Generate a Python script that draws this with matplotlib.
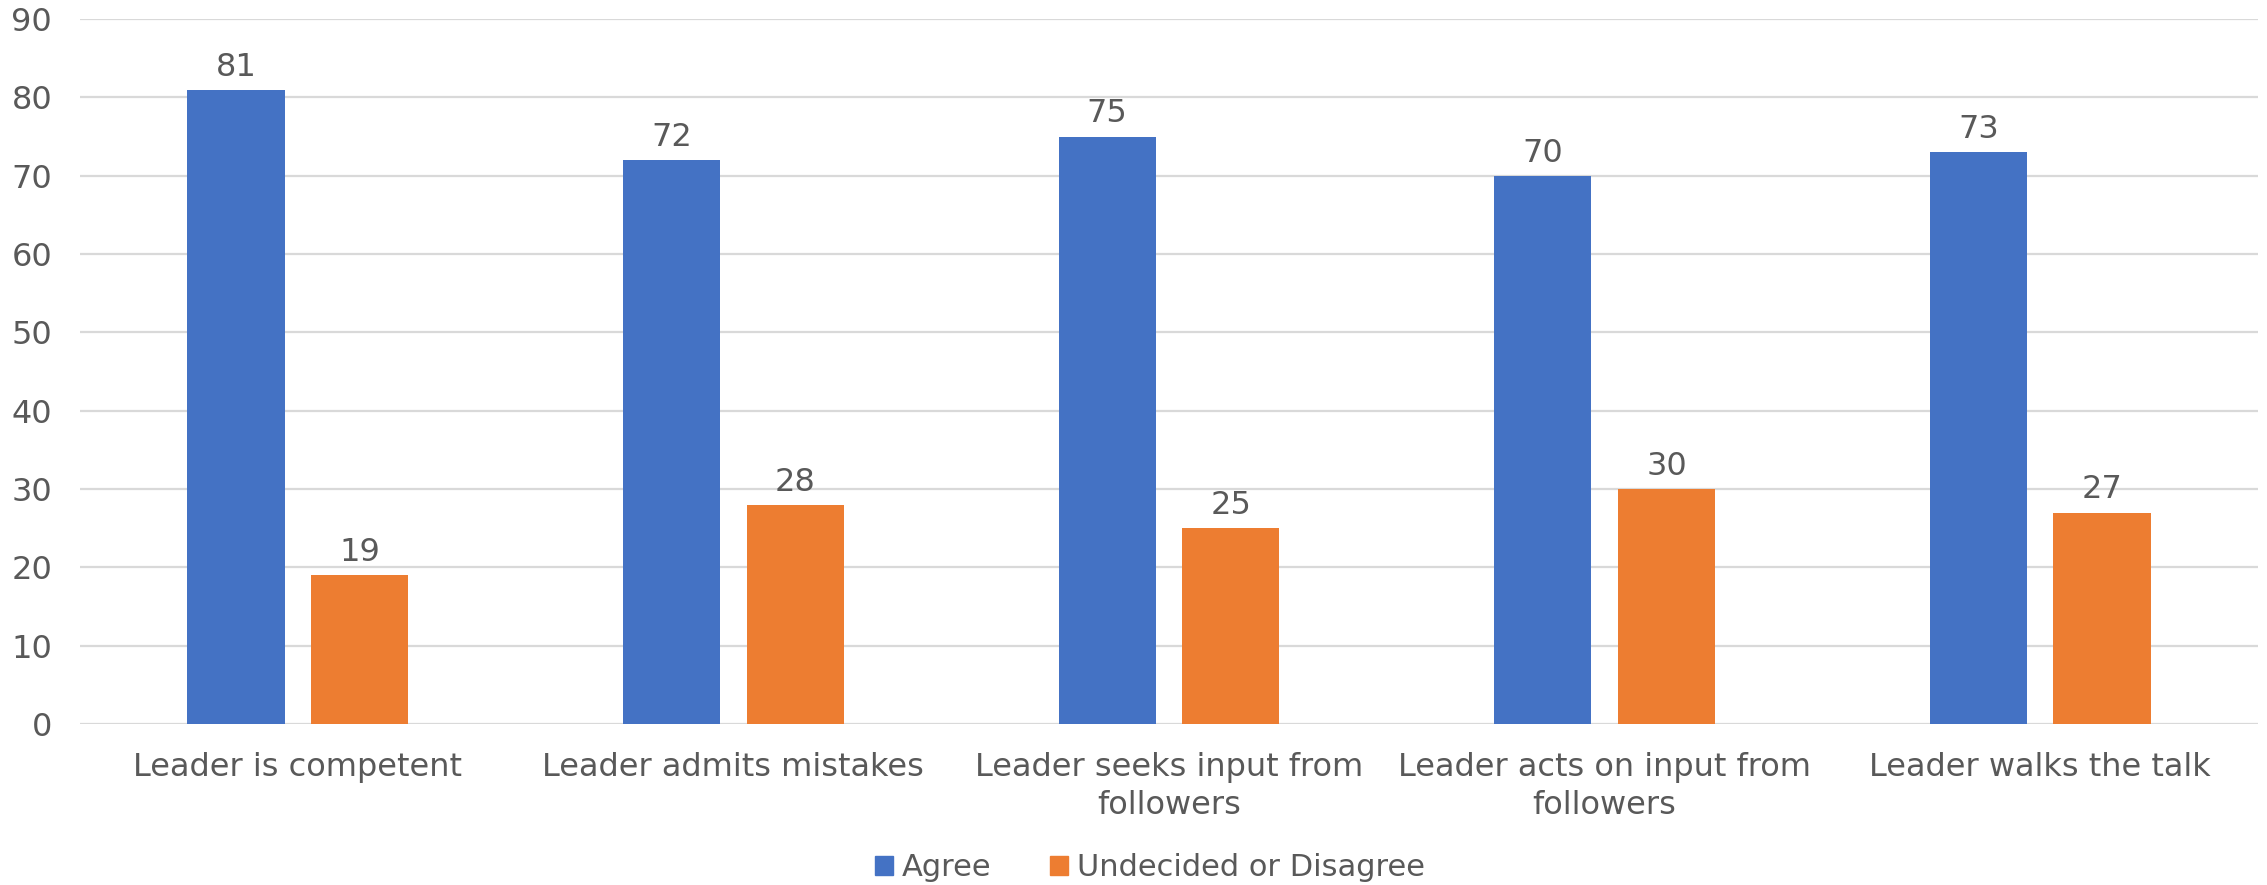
import matplotlib.pyplot as plt
import numpy as np
from matplotlib.patches import Patch

plt.rcParams["font.family"] = ["DejaVu Sans"]

categories = [
    "Leader is competent",
    "Leader admits mistakes",
    "Leader seeks input from\nfollowers",
    "Leader acts on input from\nfollowers",
    "Leader walks the talk",
]
agree = [81, 72, 75, 70, 73]
undecided = [19, 28, 25, 30, 27]
series_names = ["Agree", "Undecided or Disagree"]
y_ticks = list(range(0, 100, 10))

BLUE = "#4472C4"
ORANGE = "#ED7D31"
TEXT = "#595959"
GRID = "#D9D9D9"
FS = 23

fig = plt.figure(figsize=(22.67, 8.85), dpi=100)
ax = fig.add_axes([80 / 2267, 1 - 724 / 885, (2258 - 80) / 2267, (724 - 19) / 885])

x = np.arange(len(categories))
width = 0.223
offset = 0.142

bars_a = ax.bar(x - offset, agree, width, color=BLUE, zorder=3)
bars_u = ax.bar(x + offset, undecided, width, color=ORANGE, zorder=3)

# value labels sit just above each bar
for bars, vals in ((bars_a, agree), (bars_u, undecided)):
    for b, v in zip(bars, vals):
        ax.annotate(
            f"{v:.0f}",
            (b.get_x() + b.get_width() / 2, v),
            xytext=(0, 14),
            textcoords="offset pixels",
            ha="center",
            va="baseline",
            fontsize=FS,
            color=TEXT,
        )

ax.set_xlim(-0.5, len(categories) - 0.5)
ax.set_ylim(0, 90)
ax.set_yticks(y_ticks)
ax.set_xticks(x)
ax.set_xticklabels(categories, fontsize=FS, color=TEXT, linespacing=1.3)
ax.tick_params(axis="y", labelsize=FS, labelcolor=TEXT, length=0, pad=20)
ax.tick_params(axis="x", length=0, pad=20)

ax.grid(axis="y", color=GRID, linewidth=1.6, zorder=0)
for side in ("top", "right", "left", "bottom"):
    ax.spines[side].set_visible(False)

handles = [Patch(color=BLUE), Patch(color=ORANGE)]
fig.legend(
    handles,
    series_names,
    loc="center",
    bbox_to_anchor=(1150 / 2267, 1 - 868 / 885),
    ncol=2,
    frameon=False,
    fontsize=22,
    labelcolor=TEXT,
    handlelength=0.58,
    handleheight=0.58,
    handletextpad=0.3,
    columnspacing=1.9,
    borderpad=0.1,
)

fig.savefig("out.png", dpi=100)
